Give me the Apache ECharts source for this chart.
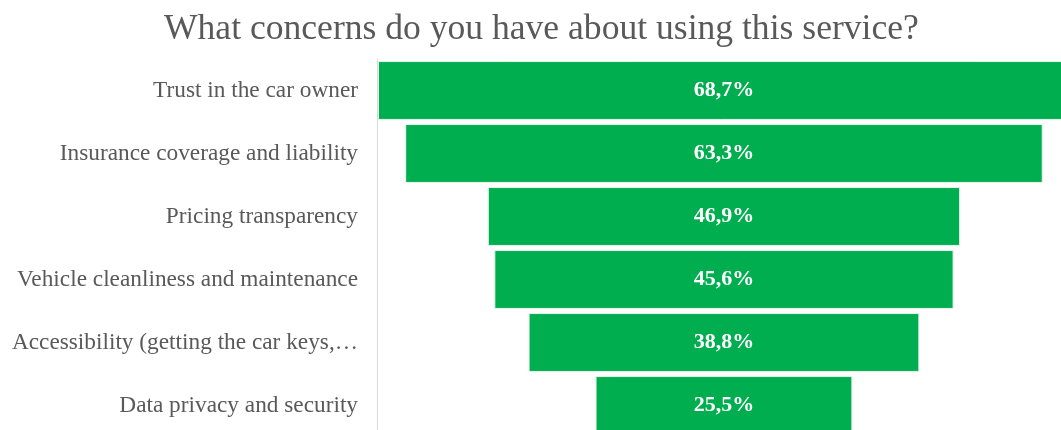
<!DOCTYPE html>
<html>
<head>
<meta charset="utf-8">
<script src="https://cdn.jsdelivr.net/npm/echarts@6/dist/echarts.min.js"></script>
<style>
  html, body { margin: 0; padding: 0; background: #fff; }
  #chart { width: 1061px; height: 430px; }
</style>
</head>
<body>
<div id="chart"></div>
<script>
// Survey answers, top to bottom
const categories = [
  'Trust in the car owner',
  'Insurance coverage and liability',
  'Pricing transparency',
  'Vehicle cleanliness and maintenance',
  'Accessibility (getting the car keys,\u2026',
  'Data privacy and security'
];
const shares = [68.7, 63.3, 46.9, 45.6, 38.8, 25.5];

// Bars are centred on a common axis value, giving the funnel shape
const centre = 34.45;
const offsets = shares.map(v => centre - v / 2);
const fmt = v => v.toFixed(1).replace('.', ',') + '%';

const chart = echarts.init(document.getElementById('chart'));
chart.setOption({
  animation: false,
  title: {
    text: 'What concerns do you have about using this service?',
    left: 159,
    top: 7,
    textStyle: { fontFamily: 'Liberation Serif', fontSize: 35.6, fontWeight: 'normal', color: '#595959' }
  },
  grid: { left: 377, top: 59, width: 705, height: 378, containLabel: false, outerBoundsMode: 'none' },
  xAxis: { type: 'value', min: 0, max: 70, show: false },
  yAxis: {
    type: 'category',
    data: categories,
    inverse: true,
    axisLine: { show: true, lineStyle: { color: '#d9d9d9', width: 1 } },
    axisTick: { show: false },
    axisLabel: { fontFamily: 'Liberation Serif', fontSize: 23.3, color: '#595959', margin: 19 }
  },
  series: [
    {
      type: 'bar', stack: 'f', data: offsets, silent: true,
      itemStyle: { color: 'transparent' }, barCategoryGap: '6.5%'
    },
    {
      type: 'bar', stack: 'f', data: shares, barCategoryGap: '6.5%',
      itemStyle: { color: '#00ae4f', borderColor: '#e6f5ec', borderWidth: 1 },
      label: {
        show: true, position: 'inside', formatter: p => fmt(p.value),
        fontFamily: 'Liberation Serif', fontSize: 22, fontWeight: 'bold', color: '#ffffff'
      }
    }
  ]
});
</script>
</body>
</html>
